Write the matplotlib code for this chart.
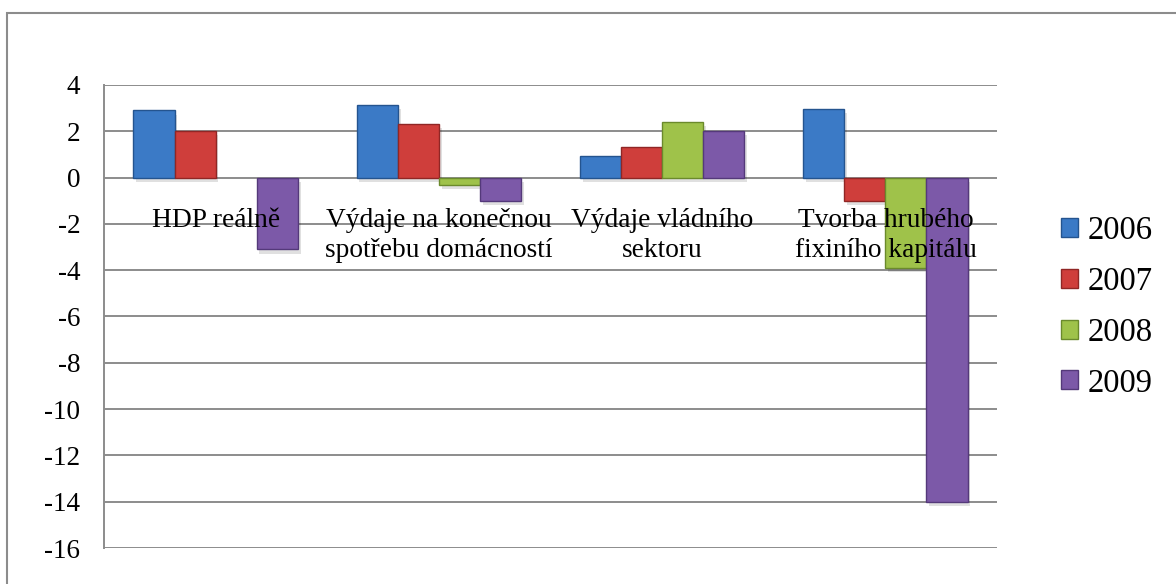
import numpy as np
import matplotlib.pyplot as plt
import matplotlib.patheffects as pe
from matplotlib.patches import Rectangle, Patch

plt.rcParams['font.family'] = ['Liberation Serif', 'DejaVu Serif']

categories = ['HDP reálně', 'Výdaje na konečnou\nspotřebu domácností',
              'Výdaje vládního\nsektoru', 'Tvorba hrubého\nfixiního kapitálu']
years = ['2006', '2007', '2008', '2009']
v2006 = [2.9, 3.15, 0.95, 2.95]
v2007 = [2.0, 2.3, 1.3, -1.0]
v2008 = [0.0, -0.3, 2.4, -3.9]
v2009 = [-3.1, -1.0, 2.0, -14.0]
yticks = [4, 2, 0, -2, -4, -6, -8, -10, -12, -14, -16]

colors = ['#3b7ac6', '#cf3e3b', '#9fc24a', '#7c59a8']
edges = ['#24548f', '#902625', '#6b8a2c', '#54397a']

fig = plt.figure(figsize=(11.76, 5.84), dpi=100)
ax = fig.add_axes([0.0884, 0.0616, 0.7594, 0.7929])

x = np.arange(len(categories))
w = 0.184
shadow = [pe.SimplePatchShadow(offset=(2, -3), shadow_rgbFace='#000000', alpha=0.12), pe.Normal()]
for i, vals in enumerate([v2006, v2007, v2008, v2009]):
    # zero-height bars get no outline, like in the original
    lw = [0 if v == 0 else 1.0 for v in vals]
    ax.bar(x + (i - 1.5) * w, vals, w, color=colors[i], edgecolor=edges[i],
           linewidth=lw, zorder=3, path_effects=shadow)

ax.set_xlim(-0.5, 3.5)
ax.set_ylim(-16, 4)
ax.set_yticks(yticks)
ax.set_yticklabels([str(t) for t in yticks], fontsize=19.5)
ax.tick_params(axis='y', length=0, pad=17)
ax.set_xticks([])
ax.grid(axis='y', color='#8c8c8c', linewidth=1.4, zorder=1)
for s in ['top', 'right', 'bottom']:
    ax.spines[s].set_visible(False)
ax.spines['left'].set_color('#8c8c8c')
ax.spines['left'].set_linewidth(1.4)

# category labels sit just under the zero line, over the bars
for xi, lab in zip(x, categories):
    ax.text(xi, -1.3, lab, ha='center', va='top', fontsize=19.7,
            linespacing=1.27, zorder=5)

handles = [Patch(facecolor=c, edgecolor=e, linewidth=1.0) for c, e in zip(colors, edges)]
fig.legend(handles, years, loc='center left', bbox_to_anchor=(0.888, 0.474),
           frameon=False, fontsize=23.5, handlelength=0.52, handleheight=0.52,
           handletextpad=0.3, labelspacing=0.62, borderpad=0)

# chart area border (runs off the right and bottom edges)
fig.patches.append(Rectangle((7 / 1176, -0.05), 1.1, 1 - 13 / 584 + 0.05,
                             transform=fig.transFigure, fill=False,
                             edgecolor='#8c8c8c', linewidth=1.5))

fig.savefig('out.png', dpi=100)
